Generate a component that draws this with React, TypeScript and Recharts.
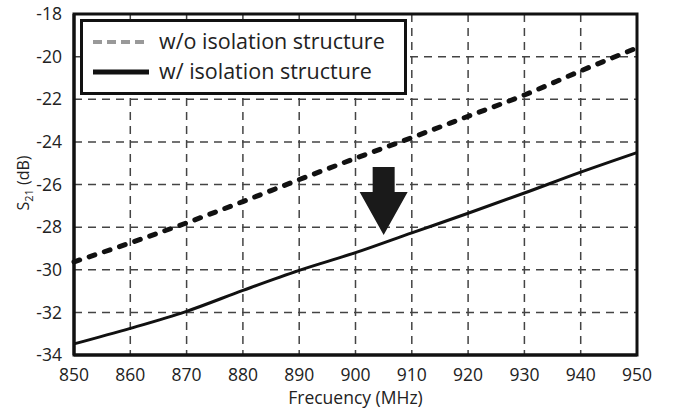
import React from "react";
import {
  LineChart,
  Line,
  XAxis,
  YAxis,
  CartesianGrid,
  ReferenceArea,
  ReferenceDot,
  Legend,
} from "recharts";

const frequencies = [850, 860, 870, 880, 890, 900, 910, 920, 930, 940, 950];
const withoutIsolation = [-29.63, -28.74, -27.8, -26.8, -25.77, -24.77, -23.8, -22.8, -21.8, -20.67, -19.59];
const withIsolation = [-33.48, -32.75, -31.95, -30.97, -30.03, -29.2, -28.27, -27.35, -26.4, -25.42, -24.5];
const xTicks = [850, 860, 870, 880, 890, 900, 910, 920, 930, 940, 950];
const yTicks = [-34, -32, -30, -28, -26, -24, -22, -20, -18];
const arrowTip = { x: 905, y: -28.37 };

const data = frequencies.map((f, i) => ({
  f,
  wo: withoutIsolation[i],
  w: withIsolation[i],
}));

const FONT = "'Open Sans', 'DejaVu Sans', sans-serif";

const ArrowShape = (props: any) => {
  const { cx, cy } = props;
  if (cx == null || cy == null) return null;
  const pts = [
    [cx, cy],
    [cx - 24, cy - 43],
    [cx - 11, cy - 43],
    [cx - 11, cy - 68],
    [cx + 11, cy - 68],
    [cx + 11, cy - 43],
    [cx + 24, cy - 43],
  ]
    .map((p) => p.join(","))
    .join(" ");
  return <polygon points={pts} fill="#1a1a1a" />;
};

const LegendBox = () => (
  <div
    style={{
      width: 321,
      height: 70,
      border: "3px solid #111",
      background: "#fff",
      boxSizing: "content-box",
    }}
  >
    <svg width={321} height={70} style={{ display: "block" }}>
      <line x1={10} x2={66} y1={20} y2={20} stroke="#999" strokeWidth={4} strokeDasharray="9 5" />
      <text x={76} y={27} fontFamily={FONT} fontSize={21.5} fill="#222">
        w/o isolation structure
      </text>
      <line x1={10} x2={66} y1={50} y2={50} stroke="#111" strokeWidth={5} />
      <text x={76} y={57} fontFamily={FONT} fontSize={21.5} fill="#222">
        w/ isolation structure
      </text>
    </svg>
  </div>
);

const YLabel = () => (
  <text
    x={0}
    y={0}
    transform="translate(29,183) rotate(-90)"
    textAnchor="middle"
    fontFamily={FONT}
    fontSize={16}
    fill="#222"
  >
    S
    <tspan fontSize={11} dy={4}>21</tspan>
    <tspan dy={-4}> (dB)</tspan>
  </text>
);

export default function App() {
  return (
    <div style={{ position: "absolute", left: 0, top: 0, background: "#fff" }}>
      <LineChart
        width={674}
        height={410}
        data={data}
        margin={{ top: 14, right: 37, bottom: 0, left: 0 }}
      >
        <CartesianGrid stroke="#444" strokeDasharray="8 6" strokeWidth={1.5} />
        <XAxis
          dataKey="f"
          type="number"
          domain={[850, 950]}
          ticks={xTicks}
          height={55}
          tickLine={false}
          axisLine={{ stroke: "#111", strokeWidth: 3 }}
          tick={{ fontFamily: FONT, fontSize: 17.5, fill: "#222" }}
          tickMargin={8}
          label={{
            value: "Frecuency (MHz)",
            position: "insideBottom",
            offset: 6,
            style: { fontFamily: FONT, fontSize: 17.5, fill: "#222" },
          }}
        />
        <YAxis
          type="number"
          domain={[-34, -18]}
          ticks={yTicks}
          width={74}
          tickLine={false}
          axisLine={{ stroke: "#111", strokeWidth: 3 }}
          tick={{ fontFamily: FONT, fontSize: 17.5, fill: "#222" }}
          tickMargin={6}
          label={{ content: () => <YLabel /> }}
        />
        <ReferenceArea
          x1={850}
          x2={950}
          y1={-34}
          y2={-18}
          fill="none"
          fillOpacity={0}
          stroke="#111"
          strokeWidth={3}
          ifOverflow="visible"
        />
        <Line
          dataKey="wo"
          stroke="#111"
          strokeWidth={5}
          strokeDasharray="6 10"
          strokeLinecap="round"
          dot={false}
          type="monotone"
          isAnimationActive={false}
        />
        <Line
          dataKey="w"
          stroke="#111"
          strokeWidth={3}
          dot={false}
          type="monotone"
          isAnimationActive={false}
        />
        <ReferenceDot x={arrowTip.x} y={arrowTip.y} r={0} shape={ArrowShape} ifOverflow="visible" />
        <Legend
          layout="horizontal"
          verticalAlign="middle"
          align="center"
          content={() => <LegendBox />}
          wrapperStyle={{ position: "absolute", left: 80, top: 19, width: "auto" }}
        />
      </LineChart>
    </div>
  );
}
